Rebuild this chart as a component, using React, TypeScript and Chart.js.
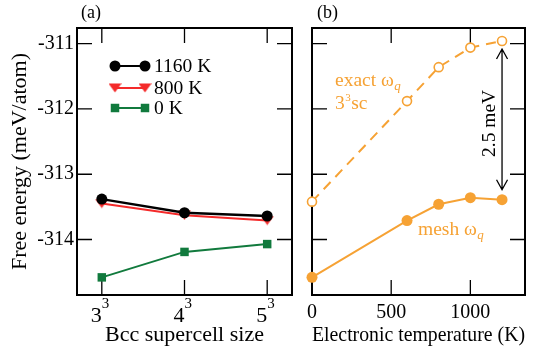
import React, { useEffect, useRef } from 'react';
import { Chart, registerables } from 'chart.js';

Chart.register(...registerables);

// ---------- data ----------
const sizeBase = ['3', '4', '5'];
const sizeExponent = '3';
const sizeIndex = [0, 1, 2];
const free1160 = [-313.38, -313.59, -313.64];
const free800 = [-313.45, -313.63, -313.71];
const free0 = [-314.58, -314.19, -314.07];

const temps = [0, 600, 800, 1000, 1200];
const exactOmega = [-313.42, -311.88, -311.36, -311.06, -310.96];
const meshOmega = [-314.58, -313.71, -313.46, -313.36, -313.39];

const yTicks = [-311, -312, -313, -314];
const tempTicks = [0, 500, 1000];
const legendLabels = ['1160 K', '800 K', '0 K'];

// ---------- styles ----------
const FONT = "'Liberation Serif', 'Times New Roman', serif";
const BLACK = '#000000';
const RED = '#f42a2a';
const GREEN = '#117a3d';
const ORANGE = '#f6a234';
const Y_MIN = -314.85;
const Y_MAX = -310.76;

function makeTriangle(color: string) {
  const c = document.createElement('canvas');
  c.width = 13;
  c.height = 10;
  const g = c.getContext('2d')!;
  g.fillStyle = color;
  g.beginPath();
  g.moveTo(0, 0.5);
  g.lineTo(13, 0.5);
  g.lineTo(6.5, 9.5);
  g.closePath();
  g.fill();
  return c;
}

function drawMarker(ctx: CanvasRenderingContext2D, style: any, x: number, y: number, r: number, color: string) {
  ctx.fillStyle = color;
  if (style === 'circle') {
    ctx.beginPath();
    ctx.arc(x, y, r, 0, Math.PI * 2);
    ctx.fill();
  } else if (style === 'rect') {
    const s = r * Math.SQRT1_2;
    ctx.fillRect(x - s, y - s, 2 * s, 2 * s);
  } else if (style instanceof HTMLCanvasElement) {
    ctx.drawImage(style, x - style.width / 2, y - style.height / 2);
  }
}

const framePlugin = {
  id: 'frame',
  beforeDatasetsDraw(chart: any) {
    const { ctx, chartArea: a, scales } = chart;
    const L = 15;
    ctx.save();
    ctx.strokeStyle = '#000';
    ctx.lineWidth = 1.3;
    ctx.beginPath();
    scales.x.ticks.forEach((t: any) => {
      const px = scales.x.getPixelForValue(t.value);
      if (px <= a.left + 1 || px >= a.right - 1) return;
      ctx.moveTo(px, a.bottom);
      ctx.lineTo(px, a.bottom - L);
      ctx.moveTo(px, a.top);
      ctx.lineTo(px, a.top + L);
    });
    scales.y.ticks.forEach((t: any) => {
      const py = scales.y.getPixelForValue(t.value);
      if (py <= a.top + 1 || py >= a.bottom - 1) return;
      ctx.moveTo(a.left, py);
      ctx.lineTo(a.left + L, py);
      ctx.moveTo(a.right, py);
      ctx.lineTo(a.right - L, py);
    });
    ctx.stroke();
    ctx.lineWidth = 2;
    ctx.strokeRect(a.left, a.top, a.right - a.left, a.bottom - a.top);
    ctx.restore();
  },
};

function LeftChart() {
  const ref = useRef<HTMLCanvasElement>(null);
  useEffect(() => {
    const tri = makeTriangle(RED);
    const legendPlugin = {
      id: 'legendA',
      afterDraw(chart: any) {
        const { ctx, scales } = chart;
        ctx.save();
        ctx.font = `19.5px ${FONT}`;
        ctx.textBaseline = 'middle';
        const rows = [66, 88, 108];
        chart.data.datasets.forEach((ds: any, i: number) => {
          const y = rows[i];
          ctx.strokeStyle = ds.borderColor;
          ctx.lineWidth = 2;
          ctx.beginPath();
          ctx.moveTo(115, y);
          ctx.lineTo(145, y);
          ctx.stroke();
          drawMarker(ctx, ds.pointStyle, 115, y, ds.pointRadius, ds.borderColor);
          drawMarker(ctx, ds.pointStyle, 145, y, ds.pointRadius, ds.borderColor);
          ctx.fillStyle = '#000';
          ctx.textAlign = 'left';
          ctx.fillText(legendLabels[i], 154, y + 1);
        });
        // superscript exponents on the x tick labels
        ctx.font = `15px ${FONT}`;
        ctx.textBaseline = 'alphabetic';
        ctx.textAlign = 'left';
        scales.x.ticks.forEach((t: any) => {
          const px = scales.x.getPixelForValue(t.value);
          ctx.fillText(sizeExponent, px, 308);
        });
        ctx.font = `18px ${FONT}`;
        ctx.fillText('(a)', 81, 18);
        ctx.restore();
      },
    };
    const mk = (vals: number[]) => sizeIndex.map((x, i) => ({ x, y: vals[i] }));
    const chart = new Chart(ref.current!, {
      type: 'line',
      data: {
        datasets: [
          { data: mk(free1160), borderColor: BLACK, backgroundColor: BLACK, borderWidth: 2.3, pointStyle: 'circle', pointRadius: 5.5, pointBackgroundColor: BLACK, pointBorderWidth: 0, clip: false } as any,
          { data: mk(free800), borderColor: RED, backgroundColor: RED, borderWidth: 2, pointStyle: tri, pointRadius: 6, clip: false } as any,
          { data: mk(free0), borderColor: GREEN, backgroundColor: GREEN, borderWidth: 2, pointStyle: 'rect', pointRadius: 6, pointBackgroundColor: GREEN, pointBorderWidth: 0, clip: false } as any,
        ],
      },
      options: {
        animation: false,
        responsive: false,
        maintainAspectRatio: false,
        layout: { padding: { top: 28, right: 8, left: 0, bottom: 0 } },
        plugins: { legend: { display: false }, tooltip: { enabled: false } },
        scales: {
          x: {
            type: 'linear',
            min: -0.3,
            max: 2.3,
            grid: { display: false, drawTicks: false },
            border: { display: false },
            afterBuildTicks: (s: any) => { s.ticks = sizeIndex.map((v) => ({ value: v })); },
            afterFit: (s: any) => { s.height = 56; },
            ticks: {
              padding: 8,
              align: 'end',
              color: '#000',
              maxRotation: 0,
              autoSkip: false,
              font: { family: FONT, size: 22 },
              callback: (v: any) => sizeBase[v] ?? '',
            },
            title: { display: true, text: 'Bcc supercell size', color: '#000', font: { family: FONT, size: 22 }, padding: { top: 0, bottom: 3 } },
          },
          y: {
            type: 'linear',
            min: Y_MIN,
            max: Y_MAX,
            grid: { display: false, drawTicks: false },
            border: { display: false },
            afterBuildTicks: (s: any) => { s.ticks = yTicks.map((v) => ({ value: v })); },
            afterFit: (s: any) => { s.width = 77; },
            ticks: { padding: 3, color: '#000', font: { family: FONT, size: 20 }, callback: (v: any) => String(v) },
            title: { display: true, text: 'Free energy (meV/atom)', color: '#000', font: { family: FONT, size: 22 }, padding: { top: 7, bottom: 0 } },
          },
        },
      } as any,
      plugins: [framePlugin, legendPlugin],
    });
    return () => chart.destroy();
  }, []);
  return <canvas ref={ref} width={300} height={351} style={{ position: 'absolute', left: 0, top: 0, width: 300, height: 351 }} />;
}

function RightChart() {
  const ref = useRef<HTMLCanvasElement>(null);
  useEffect(() => {
    const annot = {
      id: 'annotB',
      afterDraw(chart: any) {
        const { ctx, scales } = chart;
        const xs = scales.x;
        const ys = scales.y;
        ctx.save();
        ctx.fillStyle = '#000';
        ctx.font = `18px ${FONT}`;
        ctx.textBaseline = 'alphabetic';
        ctx.fillText('(b)', 17, 18);

        // orange labels
        const sub = (label: string, x: number, y: number) => {
          ctx.fillStyle = ORANGE;
          ctx.font = `19.5px ${FONT}`;
          ctx.fillText(label, x, y);
          const w = ctx.measureText(label).width;
          ctx.font = `italic 13px ${FONT}`;
          ctx.fillText('q', x + w + 0.5, y + 4);
        };
        sub('exact ω', 35, 86);
        ctx.fillStyle = ORANGE;
        ctx.font = `19.5px ${FONT}`;
        ctx.fillText('3', 35, 109);
        const w3 = ctx.measureText('3').width;
        ctx.font = `11px ${FONT}`;
        ctx.fillText('3', 35 + w3 + 0.5, 101);
        const ws = ctx.measureText('3').width;
        ctx.font = `19.5px ${FONT}`;
        ctx.fillText('sc', 35 + w3 + ws + 1, 109);
        sub('mesh ω', 118, 235);

        // arrow between the two series at the last temperature
        const last = temps.length - 1;
        const ax = xs.getPixelForValue(temps[last]);
        const yTop = ys.getPixelForValue(exactOmega[last]) + 8;
        const yBot = ys.getPixelForValue(meshOmega[last]) - 10;
        ctx.strokeStyle = '#000';
        ctx.lineWidth = 1.3;
        ctx.beginPath();
        ctx.moveTo(ax, yTop);
        ctx.lineTo(ax, yBot);
        ctx.moveTo(ax - 5.5, yTop + 10);
        ctx.lineTo(ax, yTop);
        ctx.lineTo(ax + 5.5, yTop + 10);
        ctx.moveTo(ax - 5.5, yBot - 10);
        ctx.lineTo(ax, yBot);
        ctx.lineTo(ax + 5.5, yBot - 10);
        ctx.stroke();

        ctx.translate(ax - 12, (yTop + yBot) / 2 + 4);
        ctx.rotate(-Math.PI / 2);
        ctx.fillStyle = '#000';
        ctx.font = `19.5px ${FONT}`;
        ctx.textAlign = 'center';
        ctx.textBaseline = 'middle';
        ctx.fillText('2.5 meV', 0, 0);
        ctx.restore();
      },
    };
    const mk = (vals: number[]) => temps.map((x, i) => ({ x, y: vals[i] }));
    const chart = new Chart(ref.current!, {
      type: 'line',
      data: {
        datasets: [
          { data: mk(exactOmega), borderColor: ORANGE, borderWidth: 2, borderDash: [10, 7], pointStyle: 'circle', pointRadius: 4.5, pointBackgroundColor: '#fff', pointBorderColor: ORANGE, pointBorderWidth: 1.6, clip: false } as any,
          { data: mk(meshOmega), borderColor: ORANGE, borderWidth: 2, pointStyle: 'circle', pointRadius: 5.5, pointBackgroundColor: ORANGE, pointBorderWidth: 0, clip: false } as any,
        ],
      },
      options: {
        animation: false,
        responsive: false,
        maintainAspectRatio: false,
        layout: { padding: { top: 28, right: 10, left: 0, bottom: 0 } },
        plugins: { legend: { display: false }, tooltip: { enabled: false } },
        scales: {
          x: {
            type: 'linear',
            min: 0,
            max: 1345,
            grid: { display: false, drawTicks: false },
            border: { display: false },
            afterBuildTicks: (s: any) => { s.ticks = tempTicks.map((v) => ({ value: v })); },
            afterFit: (s: any) => { s.height = 56; },
            ticks: { padding: 6, color: '#000', maxRotation: 0, autoSkip: false, font: { family: FONT, size: 20 }, callback: (v: any) => String(v) },
            title: { display: true, text: 'Electronic temperature (K)', color: '#000', font: { family: FONT, size: 22 }, padding: { top: 0, bottom: 3 } },
          },
          y: {
            type: 'linear',
            min: Y_MIN,
            max: Y_MAX,
            grid: { display: false, drawTicks: false },
            border: { display: false },
            afterBuildTicks: (s: any) => { s.ticks = yTicks.map((v) => ({ value: v })); },
            afterFit: (s: any) => { s.width = 12; },
            ticks: { display: false },
          },
        },
      } as any,
      plugins: [framePlugin, annot],
    });
    return () => chart.destroy();
  }, []);
  return <canvas ref={ref} width={235} height={351} style={{ position: 'absolute', left: 300, top: 0, width: 235, height: 351 }} />;
}

export default function App() {
  return (
    <div style={{ position: 'fixed', left: 0, top: 0, width: 535, height: 351, background: '#fff', overflow: 'hidden' }}>
      <LeftChart />
      <RightChart />
    </div>
  );
}
